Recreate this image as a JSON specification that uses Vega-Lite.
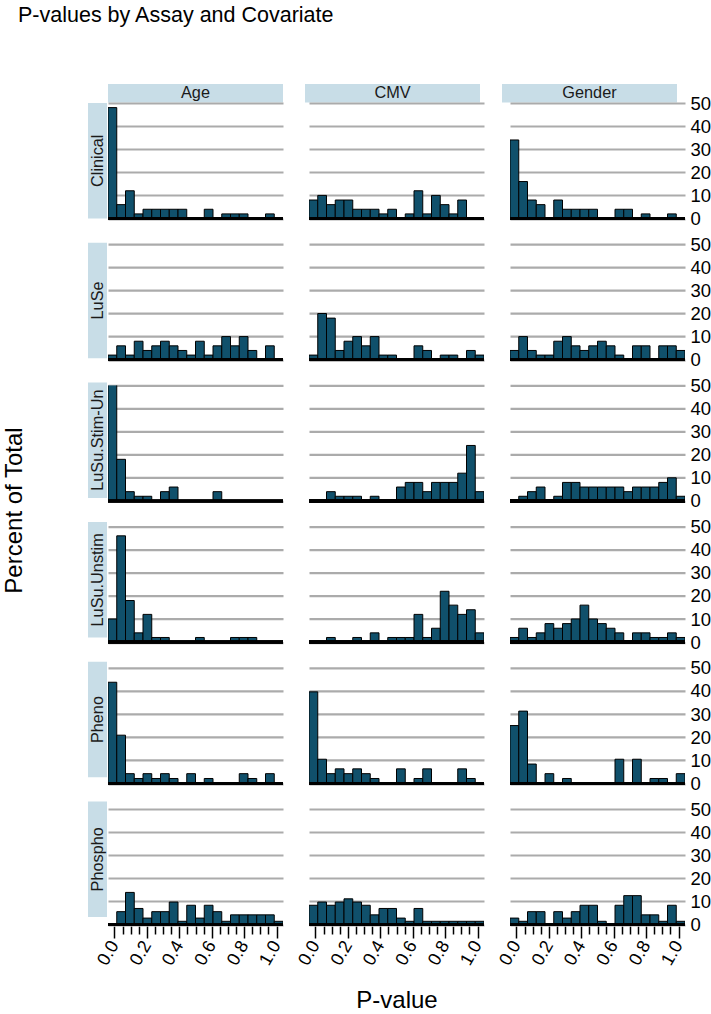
{
  "$schema": "https://vega.github.io/schema/vega-lite/v6.json",
  "padding": {"left": 2, "right": 0, "top": 4, "bottom": 0},
  "title": {"text": "P-values by Assay and Covariate", "anchor": "start", "fontSize": 21.5, "fontWeight": "normal", "font": "Liberation Sans", "color": "black", "offset": 58, "dx": 16},
  "datasets": {
    "h": [
      {"a":"Clinical","c":"Age","x0":-0.04,"x1":0.014,"p":48},
      {"a":"Clinical","c":"Age","x0":0.014,"x1":0.068,"p":6},
      {"a":"Clinical","c":"Age","x0":0.068,"x1":0.122,"p":12},
      {"a":"Clinical","c":"Age","x0":0.122,"x1":0.176,"p":2},
      {"a":"Clinical","c":"Age","x0":0.176,"x1":0.23,"p":4},
      {"a":"Clinical","c":"Age","x0":0.23,"x1":0.284,"p":4},
      {"a":"Clinical","c":"Age","x0":0.284,"x1":0.338,"p":4},
      {"a":"Clinical","c":"Age","x0":0.338,"x1":0.392,"p":4},
      {"a":"Clinical","c":"Age","x0":0.392,"x1":0.446,"p":4},
      {"a":"Clinical","c":"Age","x0":0.554,"x1":0.608,"p":4},
      {"a":"Clinical","c":"Age","x0":0.662,"x1":0.716,"p":2},
      {"a":"Clinical","c":"Age","x0":0.716,"x1":0.77,"p":2},
      {"a":"Clinical","c":"Age","x0":0.77,"x1":0.824,"p":2},
      {"a":"Clinical","c":"Age","x0":0.932,"x1":0.986,"p":2},

      {"a":"Clinical","c":"CMV","x0":-0.04,"x1":0.014,"p":8},
      {"a":"Clinical","c":"CMV","x0":0.014,"x1":0.068,"p":10},
      {"a":"Clinical","c":"CMV","x0":0.068,"x1":0.122,"p":6},
      {"a":"Clinical","c":"CMV","x0":0.122,"x1":0.176,"p":8},
      {"a":"Clinical","c":"CMV","x0":0.176,"x1":0.23,"p":8},
      {"a":"Clinical","c":"CMV","x0":0.23,"x1":0.284,"p":4},
      {"a":"Clinical","c":"CMV","x0":0.284,"x1":0.338,"p":4},
      {"a":"Clinical","c":"CMV","x0":0.338,"x1":0.392,"p":4},
      {"a":"Clinical","c":"CMV","x0":0.392,"x1":0.446,"p":2},
      {"a":"Clinical","c":"CMV","x0":0.446,"x1":0.5,"p":4},
      {"a":"Clinical","c":"CMV","x0":0.554,"x1":0.608,"p":2},
      {"a":"Clinical","c":"CMV","x0":0.608,"x1":0.662,"p":12},
      {"a":"Clinical","c":"CMV","x0":0.662,"x1":0.716,"p":2},
      {"a":"Clinical","c":"CMV","x0":0.716,"x1":0.77,"p":10},
      {"a":"Clinical","c":"CMV","x0":0.77,"x1":0.824,"p":6},
      {"a":"Clinical","c":"CMV","x0":0.824,"x1":0.878,"p":2},
      {"a":"Clinical","c":"CMV","x0":0.878,"x1":0.932,"p":8},

      {"a":"Clinical","c":"Gender","x0":-0.04,"x1":0.014,"p":34},
      {"a":"Clinical","c":"Gender","x0":0.014,"x1":0.068,"p":16},
      {"a":"Clinical","c":"Gender","x0":0.068,"x1":0.122,"p":8},
      {"a":"Clinical","c":"Gender","x0":0.122,"x1":0.176,"p":6},
      {"a":"Clinical","c":"Gender","x0":0.23,"x1":0.284,"p":8},
      {"a":"Clinical","c":"Gender","x0":0.284,"x1":0.338,"p":4},
      {"a":"Clinical","c":"Gender","x0":0.338,"x1":0.392,"p":4},
      {"a":"Clinical","c":"Gender","x0":0.392,"x1":0.446,"p":4},
      {"a":"Clinical","c":"Gender","x0":0.446,"x1":0.5,"p":4},
      {"a":"Clinical","c":"Gender","x0":0.608,"x1":0.662,"p":4},
      {"a":"Clinical","c":"Gender","x0":0.662,"x1":0.716,"p":4},
      {"a":"Clinical","c":"Gender","x0":0.77,"x1":0.824,"p":2},
      {"a":"Clinical","c":"Gender","x0":0.932,"x1":0.986,"p":2},

      {"a":"LuSe","c":"Age","x0":-0.04,"x1":0.014,"p":2},
      {"a":"LuSe","c":"Age","x0":0.014,"x1":0.068,"p":6},
      {"a":"LuSe","c":"Age","x0":0.068,"x1":0.122,"p":2},
      {"a":"LuSe","c":"Age","x0":0.122,"x1":0.176,"p":8},
      {"a":"LuSe","c":"Age","x0":0.176,"x1":0.23,"p":4},
      {"a":"LuSe","c":"Age","x0":0.23,"x1":0.284,"p":6},
      {"a":"LuSe","c":"Age","x0":0.284,"x1":0.338,"p":8},
      {"a":"LuSe","c":"Age","x0":0.338,"x1":0.392,"p":6},
      {"a":"LuSe","c":"Age","x0":0.392,"x1":0.446,"p":4},
      {"a":"LuSe","c":"Age","x0":0.446,"x1":0.5,"p":2},
      {"a":"LuSe","c":"Age","x0":0.5,"x1":0.554,"p":8},
      {"a":"LuSe","c":"Age","x0":0.554,"x1":0.608,"p":2},
      {"a":"LuSe","c":"Age","x0":0.608,"x1":0.662,"p":6},
      {"a":"LuSe","c":"Age","x0":0.662,"x1":0.716,"p":10},
      {"a":"LuSe","c":"Age","x0":0.716,"x1":0.77,"p":6},
      {"a":"LuSe","c":"Age","x0":0.77,"x1":0.824,"p":10},
      {"a":"LuSe","c":"Age","x0":0.824,"x1":0.878,"p":4},
      {"a":"LuSe","c":"Age","x0":0.932,"x1":0.986,"p":6},

      {"a":"LuSe","c":"CMV","x0":-0.04,"x1":0.014,"p":2},
      {"a":"LuSe","c":"CMV","x0":0.014,"x1":0.068,"p":20},
      {"a":"LuSe","c":"CMV","x0":0.068,"x1":0.122,"p":18},
      {"a":"LuSe","c":"CMV","x0":0.122,"x1":0.176,"p":4},
      {"a":"LuSe","c":"CMV","x0":0.176,"x1":0.23,"p":8},
      {"a":"LuSe","c":"CMV","x0":0.23,"x1":0.284,"p":10},
      {"a":"LuSe","c":"CMV","x0":0.284,"x1":0.338,"p":6},
      {"a":"LuSe","c":"CMV","x0":0.338,"x1":0.392,"p":10},
      {"a":"LuSe","c":"CMV","x0":0.392,"x1":0.446,"p":2},
      {"a":"LuSe","c":"CMV","x0":0.446,"x1":0.5,"p":2},
      {"a":"LuSe","c":"CMV","x0":0.608,"x1":0.662,"p":6},
      {"a":"LuSe","c":"CMV","x0":0.662,"x1":0.716,"p":4},
      {"a":"LuSe","c":"CMV","x0":0.77,"x1":0.824,"p":2},
      {"a":"LuSe","c":"CMV","x0":0.824,"x1":0.878,"p":2},
      {"a":"LuSe","c":"CMV","x0":0.932,"x1":0.986,"p":4},
      {"a":"LuSe","c":"CMV","x0":0.986,"x1":1.04,"p":2},

      {"a":"LuSe","c":"Gender","x0":-0.04,"x1":0.014,"p":4},
      {"a":"LuSe","c":"Gender","x0":0.014,"x1":0.068,"p":10},
      {"a":"LuSe","c":"Gender","x0":0.068,"x1":0.122,"p":4},
      {"a":"LuSe","c":"Gender","x0":0.122,"x1":0.176,"p":2},
      {"a":"LuSe","c":"Gender","x0":0.176,"x1":0.23,"p":2},
      {"a":"LuSe","c":"Gender","x0":0.23,"x1":0.284,"p":8},
      {"a":"LuSe","c":"Gender","x0":0.284,"x1":0.338,"p":10},
      {"a":"LuSe","c":"Gender","x0":0.338,"x1":0.392,"p":6},
      {"a":"LuSe","c":"Gender","x0":0.392,"x1":0.446,"p":4},
      {"a":"LuSe","c":"Gender","x0":0.446,"x1":0.5,"p":6},
      {"a":"LuSe","c":"Gender","x0":0.5,"x1":0.554,"p":8},
      {"a":"LuSe","c":"Gender","x0":0.554,"x1":0.608,"p":6},
      {"a":"LuSe","c":"Gender","x0":0.608,"x1":0.662,"p":2},
      {"a":"LuSe","c":"Gender","x0":0.716,"x1":0.77,"p":6},
      {"a":"LuSe","c":"Gender","x0":0.77,"x1":0.824,"p":6},
      {"a":"LuSe","c":"Gender","x0":0.878,"x1":0.932,"p":6},
      {"a":"LuSe","c":"Gender","x0":0.932,"x1":0.986,"p":6},
      {"a":"LuSe","c":"Gender","x0":0.986,"x1":1.04,"p":4},

      {"a":"LuSu.Stim-Un","c":"Age","x0":-0.04,"x1":0.014,"p":60},
      {"a":"LuSu.Stim-Un","c":"Age","x0":0.014,"x1":0.068,"p":18},
      {"a":"LuSu.Stim-Un","c":"Age","x0":0.068,"x1":0.122,"p":4},
      {"a":"LuSu.Stim-Un","c":"Age","x0":0.122,"x1":0.176,"p":2},
      {"a":"LuSu.Stim-Un","c":"Age","x0":0.176,"x1":0.23,"p":2},
      {"a":"LuSu.Stim-Un","c":"Age","x0":0.284,"x1":0.338,"p":4},
      {"a":"LuSu.Stim-Un","c":"Age","x0":0.338,"x1":0.392,"p":6},
      {"a":"LuSu.Stim-Un","c":"Age","x0":0.608,"x1":0.662,"p":4},

      {"a":"LuSu.Stim-Un","c":"CMV","x0":0.068,"x1":0.122,"p":4},
      {"a":"LuSu.Stim-Un","c":"CMV","x0":0.122,"x1":0.176,"p":2},
      {"a":"LuSu.Stim-Un","c":"CMV","x0":0.176,"x1":0.23,"p":2},
      {"a":"LuSu.Stim-Un","c":"CMV","x0":0.23,"x1":0.284,"p":2},
      {"a":"LuSu.Stim-Un","c":"CMV","x0":0.338,"x1":0.392,"p":2},
      {"a":"LuSu.Stim-Un","c":"CMV","x0":0.5,"x1":0.554,"p":6},
      {"a":"LuSu.Stim-Un","c":"CMV","x0":0.554,"x1":0.608,"p":8},
      {"a":"LuSu.Stim-Un","c":"CMV","x0":0.608,"x1":0.662,"p":8},
      {"a":"LuSu.Stim-Un","c":"CMV","x0":0.662,"x1":0.716,"p":4},
      {"a":"LuSu.Stim-Un","c":"CMV","x0":0.716,"x1":0.77,"p":8},
      {"a":"LuSu.Stim-Un","c":"CMV","x0":0.77,"x1":0.824,"p":8},
      {"a":"LuSu.Stim-Un","c":"CMV","x0":0.824,"x1":0.878,"p":8},
      {"a":"LuSu.Stim-Un","c":"CMV","x0":0.878,"x1":0.932,"p":12},
      {"a":"LuSu.Stim-Un","c":"CMV","x0":0.932,"x1":0.986,"p":24},
      {"a":"LuSu.Stim-Un","c":"CMV","x0":0.986,"x1":1.04,"p":4},

      {"a":"LuSu.Stim-Un","c":"Gender","x0":0.014,"x1":0.068,"p":2},
      {"a":"LuSu.Stim-Un","c":"Gender","x0":0.068,"x1":0.122,"p":4},
      {"a":"LuSu.Stim-Un","c":"Gender","x0":0.122,"x1":0.176,"p":6},
      {"a":"LuSu.Stim-Un","c":"Gender","x0":0.23,"x1":0.284,"p":2},
      {"a":"LuSu.Stim-Un","c":"Gender","x0":0.284,"x1":0.338,"p":8},
      {"a":"LuSu.Stim-Un","c":"Gender","x0":0.338,"x1":0.392,"p":8},
      {"a":"LuSu.Stim-Un","c":"Gender","x0":0.392,"x1":0.446,"p":6},
      {"a":"LuSu.Stim-Un","c":"Gender","x0":0.446,"x1":0.5,"p":6},
      {"a":"LuSu.Stim-Un","c":"Gender","x0":0.5,"x1":0.554,"p":6},
      {"a":"LuSu.Stim-Un","c":"Gender","x0":0.554,"x1":0.608,"p":6},
      {"a":"LuSu.Stim-Un","c":"Gender","x0":0.608,"x1":0.662,"p":6},
      {"a":"LuSu.Stim-Un","c":"Gender","x0":0.662,"x1":0.716,"p":4},
      {"a":"LuSu.Stim-Un","c":"Gender","x0":0.716,"x1":0.77,"p":6},
      {"a":"LuSu.Stim-Un","c":"Gender","x0":0.77,"x1":0.824,"p":6},
      {"a":"LuSu.Stim-Un","c":"Gender","x0":0.824,"x1":0.878,"p":6},
      {"a":"LuSu.Stim-Un","c":"Gender","x0":0.878,"x1":0.932,"p":8},
      {"a":"LuSu.Stim-Un","c":"Gender","x0":0.932,"x1":0.986,"p":10},
      {"a":"LuSu.Stim-Un","c":"Gender","x0":0.986,"x1":1.04,"p":2},

      {"a":"LuSu.Unstim","c":"Age","x0":-0.04,"x1":0.014,"p":10},
      {"a":"LuSu.Unstim","c":"Age","x0":0.014,"x1":0.068,"p":46},
      {"a":"LuSu.Unstim","c":"Age","x0":0.068,"x1":0.122,"p":18},
      {"a":"LuSu.Unstim","c":"Age","x0":0.122,"x1":0.176,"p":4},
      {"a":"LuSu.Unstim","c":"Age","x0":0.176,"x1":0.23,"p":12},
      {"a":"LuSu.Unstim","c":"Age","x0":0.23,"x1":0.284,"p":2},
      {"a":"LuSu.Unstim","c":"Age","x0":0.284,"x1":0.338,"p":2},
      {"a":"LuSu.Unstim","c":"Age","x0":0.5,"x1":0.554,"p":2},
      {"a":"LuSu.Unstim","c":"Age","x0":0.716,"x1":0.77,"p":2},
      {"a":"LuSu.Unstim","c":"Age","x0":0.77,"x1":0.824,"p":2},
      {"a":"LuSu.Unstim","c":"Age","x0":0.824,"x1":0.878,"p":2},

      {"a":"LuSu.Unstim","c":"CMV","x0":0.068,"x1":0.122,"p":2},
      {"a":"LuSu.Unstim","c":"CMV","x0":0.23,"x1":0.284,"p":2},
      {"a":"LuSu.Unstim","c":"CMV","x0":0.338,"x1":0.392,"p":4},
      {"a":"LuSu.Unstim","c":"CMV","x0":0.446,"x1":0.5,"p":2},
      {"a":"LuSu.Unstim","c":"CMV","x0":0.5,"x1":0.554,"p":2},
      {"a":"LuSu.Unstim","c":"CMV","x0":0.554,"x1":0.608,"p":2},
      {"a":"LuSu.Unstim","c":"CMV","x0":0.608,"x1":0.662,"p":12},
      {"a":"LuSu.Unstim","c":"CMV","x0":0.662,"x1":0.716,"p":2},
      {"a":"LuSu.Unstim","c":"CMV","x0":0.716,"x1":0.77,"p":6},
      {"a":"LuSu.Unstim","c":"CMV","x0":0.77,"x1":0.824,"p":22},
      {"a":"LuSu.Unstim","c":"CMV","x0":0.824,"x1":0.878,"p":16},
      {"a":"LuSu.Unstim","c":"CMV","x0":0.878,"x1":0.932,"p":12},
      {"a":"LuSu.Unstim","c":"CMV","x0":0.932,"x1":0.986,"p":14},
      {"a":"LuSu.Unstim","c":"CMV","x0":0.986,"x1":1.04,"p":4},

      {"a":"LuSu.Unstim","c":"Gender","x0":-0.04,"x1":0.014,"p":2},
      {"a":"LuSu.Unstim","c":"Gender","x0":0.014,"x1":0.068,"p":6},
      {"a":"LuSu.Unstim","c":"Gender","x0":0.068,"x1":0.122,"p":2},
      {"a":"LuSu.Unstim","c":"Gender","x0":0.122,"x1":0.176,"p":4},
      {"a":"LuSu.Unstim","c":"Gender","x0":0.176,"x1":0.23,"p":8},
      {"a":"LuSu.Unstim","c":"Gender","x0":0.23,"x1":0.284,"p":6},
      {"a":"LuSu.Unstim","c":"Gender","x0":0.284,"x1":0.338,"p":8},
      {"a":"LuSu.Unstim","c":"Gender","x0":0.338,"x1":0.392,"p":10},
      {"a":"LuSu.Unstim","c":"Gender","x0":0.392,"x1":0.446,"p":16},
      {"a":"LuSu.Unstim","c":"Gender","x0":0.446,"x1":0.5,"p":10},
      {"a":"LuSu.Unstim","c":"Gender","x0":0.5,"x1":0.554,"p":8},
      {"a":"LuSu.Unstim","c":"Gender","x0":0.554,"x1":0.608,"p":6},
      {"a":"LuSu.Unstim","c":"Gender","x0":0.608,"x1":0.662,"p":4},
      {"a":"LuSu.Unstim","c":"Gender","x0":0.716,"x1":0.77,"p":4},
      {"a":"LuSu.Unstim","c":"Gender","x0":0.77,"x1":0.824,"p":4},
      {"a":"LuSu.Unstim","c":"Gender","x0":0.824,"x1":0.878,"p":2},
      {"a":"LuSu.Unstim","c":"Gender","x0":0.878,"x1":0.932,"p":2},
      {"a":"LuSu.Unstim","c":"Gender","x0":0.932,"x1":0.986,"p":4},
      {"a":"LuSu.Unstim","c":"Gender","x0":0.986,"x1":1.04,"p":2},

      {"a":"Pheno","c":"Age","x0":-0.04,"x1":0.014,"p":43.75},
      {"a":"Pheno","c":"Age","x0":0.014,"x1":0.068,"p":20.83},
      {"a":"Pheno","c":"Age","x0":0.068,"x1":0.122,"p":4.17},
      {"a":"Pheno","c":"Age","x0":0.122,"x1":0.176,"p":2.08},
      {"a":"Pheno","c":"Age","x0":0.176,"x1":0.23,"p":4.17},
      {"a":"Pheno","c":"Age","x0":0.23,"x1":0.284,"p":2.08},
      {"a":"Pheno","c":"Age","x0":0.284,"x1":0.338,"p":4.17},
      {"a":"Pheno","c":"Age","x0":0.338,"x1":0.392,"p":2.08},
      {"a":"Pheno","c":"Age","x0":0.446,"x1":0.5,"p":4.17},
      {"a":"Pheno","c":"Age","x0":0.554,"x1":0.608,"p":2.08},
      {"a":"Pheno","c":"Age","x0":0.77,"x1":0.824,"p":4.17},
      {"a":"Pheno","c":"Age","x0":0.824,"x1":0.878,"p":2.08},
      {"a":"Pheno","c":"Age","x0":0.932,"x1":0.986,"p":4.17},

      {"a":"Pheno","c":"CMV","x0":-0.04,"x1":0.014,"p":39.58},
      {"a":"Pheno","c":"CMV","x0":0.014,"x1":0.068,"p":10.42},
      {"a":"Pheno","c":"CMV","x0":0.068,"x1":0.122,"p":4.17},
      {"a":"Pheno","c":"CMV","x0":0.122,"x1":0.176,"p":6.25},
      {"a":"Pheno","c":"CMV","x0":0.176,"x1":0.23,"p":4.17},
      {"a":"Pheno","c":"CMV","x0":0.23,"x1":0.284,"p":6.25},
      {"a":"Pheno","c":"CMV","x0":0.284,"x1":0.338,"p":4.17},
      {"a":"Pheno","c":"CMV","x0":0.338,"x1":0.392,"p":2.08},
      {"a":"Pheno","c":"CMV","x0":0.5,"x1":0.554,"p":6.25},
      {"a":"Pheno","c":"CMV","x0":0.608,"x1":0.662,"p":2.08},
      {"a":"Pheno","c":"CMV","x0":0.662,"x1":0.716,"p":6.25},
      {"a":"Pheno","c":"CMV","x0":0.878,"x1":0.932,"p":6.25},
      {"a":"Pheno","c":"CMV","x0":0.932,"x1":0.986,"p":2.08},

      {"a":"Pheno","c":"Gender","x0":-0.04,"x1":0.014,"p":25},
      {"a":"Pheno","c":"Gender","x0":0.014,"x1":0.068,"p":31.25},
      {"a":"Pheno","c":"Gender","x0":0.068,"x1":0.122,"p":8.33},
      {"a":"Pheno","c":"Gender","x0":0.176,"x1":0.23,"p":4.17},
      {"a":"Pheno","c":"Gender","x0":0.284,"x1":0.338,"p":2.08},
      {"a":"Pheno","c":"Gender","x0":0.608,"x1":0.662,"p":10.42},
      {"a":"Pheno","c":"Gender","x0":0.716,"x1":0.77,"p":10.42},
      {"a":"Pheno","c":"Gender","x0":0.824,"x1":0.878,"p":2.08},
      {"a":"Pheno","c":"Gender","x0":0.878,"x1":0.932,"p":2.08},
      {"a":"Pheno","c":"Gender","x0":0.986,"x1":1.04,"p":4.17},

      {"a":"Phospho","c":"Age","x0":0.014,"x1":0.068,"p":5.56},
      {"a":"Phospho","c":"Age","x0":0.068,"x1":0.122,"p":13.89},
      {"a":"Phospho","c":"Age","x0":0.122,"x1":0.176,"p":6.94},
      {"a":"Phospho","c":"Age","x0":0.176,"x1":0.23,"p":2.78},
      {"a":"Phospho","c":"Age","x0":0.23,"x1":0.284,"p":5.56},
      {"a":"Phospho","c":"Age","x0":0.284,"x1":0.338,"p":5.56},
      {"a":"Phospho","c":"Age","x0":0.338,"x1":0.392,"p":9.72},
      {"a":"Phospho","c":"Age","x0":0.392,"x1":0.446,"p":1.39},
      {"a":"Phospho","c":"Age","x0":0.446,"x1":0.5,"p":8.33},
      {"a":"Phospho","c":"Age","x0":0.5,"x1":0.554,"p":2.78},
      {"a":"Phospho","c":"Age","x0":0.554,"x1":0.608,"p":8.33},
      {"a":"Phospho","c":"Age","x0":0.608,"x1":0.662,"p":5.56},
      {"a":"Phospho","c":"Age","x0":0.662,"x1":0.716,"p":1.39},
      {"a":"Phospho","c":"Age","x0":0.716,"x1":0.77,"p":4.17},
      {"a":"Phospho","c":"Age","x0":0.77,"x1":0.824,"p":4.17},
      {"a":"Phospho","c":"Age","x0":0.824,"x1":0.878,"p":4.17},
      {"a":"Phospho","c":"Age","x0":0.878,"x1":0.932,"p":4.17},
      {"a":"Phospho","c":"Age","x0":0.932,"x1":0.986,"p":4.17},
      {"a":"Phospho","c":"Age","x0":0.986,"x1":1.04,"p":1.39},

      {"a":"Phospho","c":"CMV","x0":-0.04,"x1":0.014,"p":8.33},
      {"a":"Phospho","c":"CMV","x0":0.014,"x1":0.068,"p":9.72},
      {"a":"Phospho","c":"CMV","x0":0.068,"x1":0.122,"p":8.33},
      {"a":"Phospho","c":"CMV","x0":0.122,"x1":0.176,"p":9.72},
      {"a":"Phospho","c":"CMV","x0":0.176,"x1":0.23,"p":11.11},
      {"a":"Phospho","c":"CMV","x0":0.23,"x1":0.284,"p":9.72},
      {"a":"Phospho","c":"CMV","x0":0.284,"x1":0.338,"p":8.33},
      {"a":"Phospho","c":"CMV","x0":0.338,"x1":0.392,"p":4.17},
      {"a":"Phospho","c":"CMV","x0":0.392,"x1":0.446,"p":6.94},
      {"a":"Phospho","c":"CMV","x0":0.446,"x1":0.5,"p":6.94},
      {"a":"Phospho","c":"CMV","x0":0.5,"x1":0.554,"p":2.78},
      {"a":"Phospho","c":"CMV","x0":0.554,"x1":0.608,"p":1.39},
      {"a":"Phospho","c":"CMV","x0":0.608,"x1":0.662,"p":6.94},
      {"a":"Phospho","c":"CMV","x0":0.662,"x1":0.716,"p":1.39},
      {"a":"Phospho","c":"CMV","x0":0.716,"x1":0.77,"p":1.39},
      {"a":"Phospho","c":"CMV","x0":0.77,"x1":0.824,"p":1.39},
      {"a":"Phospho","c":"CMV","x0":0.824,"x1":0.878,"p":1.39},
      {"a":"Phospho","c":"CMV","x0":0.878,"x1":0.932,"p":1.39},
      {"a":"Phospho","c":"CMV","x0":0.932,"x1":0.986,"p":1.39},
      {"a":"Phospho","c":"CMV","x0":0.986,"x1":1.04,"p":1.39},

      {"a":"Phospho","c":"Gender","x0":-0.04,"x1":0.014,"p":2.78},
      {"a":"Phospho","c":"Gender","x0":0.014,"x1":0.068,"p":1.39},
      {"a":"Phospho","c":"Gender","x0":0.068,"x1":0.122,"p":5.56},
      {"a":"Phospho","c":"Gender","x0":0.122,"x1":0.176,"p":5.56},
      {"a":"Phospho","c":"Gender","x0":0.23,"x1":0.284,"p":5.56},
      {"a":"Phospho","c":"Gender","x0":0.284,"x1":0.338,"p":2.78},
      {"a":"Phospho","c":"Gender","x0":0.338,"x1":0.392,"p":5.56},
      {"a":"Phospho","c":"Gender","x0":0.392,"x1":0.446,"p":8.33},
      {"a":"Phospho","c":"Gender","x0":0.446,"x1":0.5,"p":8.33},
      {"a":"Phospho","c":"Gender","x0":0.5,"x1":0.554,"p":1.39},
      {"a":"Phospho","c":"Gender","x0":0.608,"x1":0.662,"p":8.33},
      {"a":"Phospho","c":"Gender","x0":0.662,"x1":0.716,"p":12.5},
      {"a":"Phospho","c":"Gender","x0":0.716,"x1":0.77,"p":12.5},
      {"a":"Phospho","c":"Gender","x0":0.77,"x1":0.824,"p":4.17},
      {"a":"Phospho","c":"Gender","x0":0.824,"x1":0.878,"p":4.17},
      {"a":"Phospho","c":"Gender","x0":0.878,"x1":0.932,"p":1.39},
      {"a":"Phospho","c":"Gender","x0":0.932,"x1":0.986,"p":8.33},
      {"a":"Phospho","c":"Gender","x0":0.986,"x1":1.04,"p":1.39}
    ]
  },
  "columns": 2,
  "align": "each",
  "bounds": "flush",
  "spacing": {"row": 0, "column": 1},
  "concat": [
    {
      "width": 19, "height": 18.4,
      "data": {"values": [{"s": 1}]},
      "mark": {"type": "rect", "opacity": 0}
    },
    {
      "width": 569, "height": 18.4,
      "data": {"values": [{"c": "Age"}, {"c": "CMV"}, {"c": "Gender"}]},
      "encoding": {
        "x": {"field": "c", "type": "nominal", "scale": {"domain": ["Age", "CMV", "Gender"], "paddingInner": 0.1117, "paddingOuter": 0}, "axis": null}
      },
      "layer": [
        {"mark": {"type": "rect", "fill": "#C8DDE7"}},
        {"mark": {"type": "text", "fontSize": 16.3, "color": "#1a1a1a"}, "encoding": {"text": {"field": "c"}}}
      ]
    },
    {
      "width": 19, "height": 814,
      "data": {"values": [{"a": "Clinical"}, {"a": "LuSe"}, {"a": "LuSu.Stim-Un"}, {"a": "LuSu.Unstim"}, {"a": "Pheno"}, {"a": "Phospho"}]},
      "encoding": {
        "y": {"field": "a", "type": "nominal", "scale": {"domain": ["Clinical", "LuSe", "LuSu.Stim-Un", "LuSu.Unstim", "Pheno", "Phospho"], "paddingInner": 0.1732, "paddingOuter": 0},
              "axis": {"title": "Percent of Total", "labels": false, "ticks": false, "domain": false, "titleFontSize": 24, "titleFontWeight": "normal", "titleColor": "black", "titlePadding": 62}}
      },
      "layer": [
        {"mark": {"type": "rect", "fill": "#C8DDE7"}},
        {"mark": {"type": "text", "fontSize": 16.3, "angle": 270, "color": "#1a1a1a"}, "encoding": {"text": {"field": "a"}}}
      ]
    },
    {
      "data": {"name": "h"},
      "facet": {
        "row": {"field": "a", "type": "nominal", "title": null, "header": {"labels": false}},
        "column": {"field": "c", "type": "nominal", "title": "P-value", "header": {"labels": false, "titleOrient": "bottom", "titleFontSize": 24, "titleFontWeight": "normal", "titleColor": "black", "titlePadding": 10}}
      },
      "spacing": {"row": 24.2, "column": 22},
      "spec": {
        "width": 175, "height": 115.5,
        "layer": [
          {
            "mark": {"type": "rect", "fill": "#10506B", "stroke": "black", "strokeWidth": 1, "clip": true},
            "encoding": {
              "x": {"field": "x0", "type": "quantitative", "scale": {"domain": [-0.04, 1.04], "nice": false, "zero": false},
                    "axis": {"values": [0, 0.05, 0.1, 0.15, 0.2, 0.25, 0.3, 0.35, 0.4, 0.45, 0.5, 0.55, 0.6, 0.65, 0.7, 0.75, 0.8, 0.85, 0.9, 0.95, 1],
                             "labelExpr": "abs(datum.value*5-round(datum.value*5))<0.001 ? format(datum.value,'.1f') : ''",
                             "tickSize": {"condition": {"test": "abs(datum.value*5-round(datum.value*5))<0.001", "value": 12}, "value": 8},
                             "tickColor": "black", "tickWidth": 1.5, "domain": false, "grid": false, "title": null,
                             "labelAngle": -60, "labelAlign": "right", "labelBaseline": "middle", "labelFontSize": 18, "labelColor": "black",
                             "labelPadding": 4, "labelFlush": false, "labelOverlap": false, "labelBound": false}},
              "x2": {"field": "x1"},
              "y": {"field": "p", "type": "quantitative", "stack": null, "scale": {"domain": [0, 50], "nice": false},
                    "axis": {"orient": "right", "values": [0, 10, 20, 30, 40, 50], "title": null, "ticks": false, "domain": false, "grid": true,
                             "gridColor": "#ABABAB", "gridWidth": 2.2, "labelFontSize": 18.5, "labelColor": "black", "labelPadding": 3,
                             "labelOverlap": false, "labelFlush": false}},
              "y2": {"datum": 0}
            }
          },
          {
            "mark": {"type": "rule", "color": "black", "strokeWidth": 2.5},
            "encoding": {
              "y": {"datum": 0, "type": "quantitative",
                    "axis": {"orient": "right", "values": [0, 10, 20, 30, 40, 50], "title": null, "ticks": false, "domain": false, "grid": true,
                             "gridColor": "#ABABAB", "gridWidth": 2.2, "labelFontSize": 18.5, "labelColor": "black", "labelPadding": 3,
                             "labelOverlap": false, "labelFlush": false}}
            }
          }
        ]
      }
    }
  ],
  "config": {"font": "Liberation Sans", "view": {"stroke": null}}
}
